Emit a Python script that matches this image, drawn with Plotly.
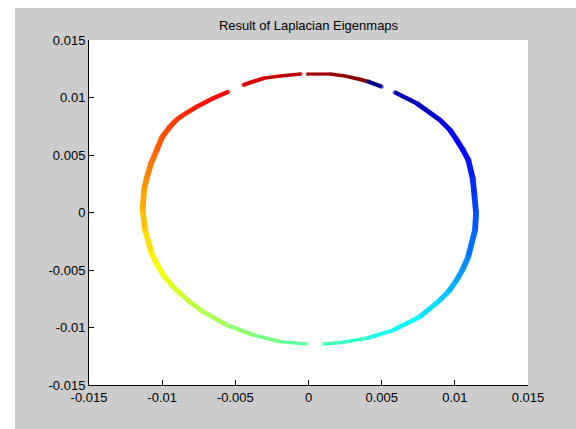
import plotly.graph_objects as go
from plotly.colors import sample_colorscale

# Points read along the embedded ring (clockwise), arc id marks gaps
x_pts = [0.00591, 0.00739, 0.00899, 0.00967, 0.01013, 0.01056, 0.01092, 0.01122, 0.01134, 0.01145,
         0.01138, 0.01092, 0.01056, 0.01013, 0.00960, 0.00899, 0.00762, 0.00580, 0.00398, 0.00215,
         0.00101,
         -0.00012, -0.00195, -0.00377, -0.00559, -0.00719, -0.00803, -0.00878, -0.00940, -0.00992,
         -0.01035, -0.01072, -0.01117, -0.01133, -0.01124, -0.01106, -0.01076, -0.01037, -0.01000,
         -0.00946, -0.00905, -0.00856, -0.00764, -0.00651, -0.00548,
         -0.00446, -0.00309, -0.00195, -0.00051,
         -0.00010, 0.00147, 0.00249, 0.00352, 0.00407, 0.00500]
y_pts = [0.01045, 0.00950, 0.00804, 0.00717, 0.00630, 0.00543, 0.00457, 0.00297, 0.00152, -0.00007,
         -0.00152, -0.00384, -0.00491, -0.00587, -0.00683, -0.00761, -0.00906, -0.01022, -0.01094, -0.01132,
         -0.01143,
         -0.01143, -0.01123, -0.01065, -0.00978, -0.00863, -0.00787, -0.00703, -0.00626, -0.00543,
         -0.00452, -0.00355, -0.00152, 0.00022, 0.00196, 0.00297, 0.00426, 0.00543, 0.00655,
         0.00746, 0.00803, 0.00848, 0.00920, 0.00993, 0.01050,
         0.01109, 0.01167, 0.01187, 0.01204,
         0.01204, 0.01204, 0.01187, 0.01158, 0.01139, 0.01094]
c_pts = [0.04, 0.06, 0.09, 0.105, 0.12, 0.13, 0.14, 0.16, 0.18, 0.20,
         0.22, 0.25, 0.27, 0.29, 0.31, 0.33, 0.36, 0.39, 0.41, 0.44,
         0.45,
         0.46, 0.48, 0.50, 0.53, 0.55, 0.565, 0.58, 0.595, 0.61,
         0.625, 0.64, 0.67, 0.70, 0.72, 0.74, 0.76, 0.78, 0.795,
         0.81, 0.82, 0.83, 0.85, 0.87, 0.88,
         0.90, 0.92, 0.93, 0.95,
         0.955, 0.97, 0.98, 0.99, 0.0, 0.02]
arc_id = [0] * 21 + [1] * 24 + [2] * 4 + [3] * 6

x_ticks = [-0.015, -0.01, -0.005, 0, 0.005, 0.01, 0.015]
x_tick_text = ["-0.015", "-0.01", "-0.005", "0", "0.005", "0.01", "0.015"]
y_ticks = [-0.015, -0.01, -0.005, 0, 0.005, 0.01, 0.015]
y_tick_text = ["-0.015", "-0.01", "-0.005", "0", "0.005", "0.01", "0.015"]

jet = [[0, "rgb(0,0,128)"], [0.125, "rgb(0,0,255)"], [0.375, "rgb(0,255,255)"],
       [0.625, "rgb(255,255,0)"], [0.875, "rgb(255,0,0)"], [1, "rgb(128,0,0)"]]

W, H = 576, 429
L, R, T, B = 89, 48, 40, 44
pw, ph = W - L - R, H - T - B
sx, sy = pw / 0.03, ph / 0.03


def band_width(i, j):
    dx = (x_pts[j] - x_pts[i]) * sx
    dy = (y_pts[j] - y_pts[i]) * sy
    vert = abs(dy) / max((dx * dx + dy * dy) ** 0.5, 1e-9)
    return 3.2 + 2.6 * vert


fig = go.Figure()
n = len(x_pts)
for i in range(n - 1):
    if arc_id[i] != arc_id[i + 1]:
        continue
    c1, c2 = c_pts[i], c_pts[i + 1]
    c = c1 if abs(c1 - c2) > 0.5 else (c1 + c2) / 2
    col = sample_colorscale(jet, [c])[0]
    fig.add_trace(go.Scatter(x=[x_pts[i], x_pts[i + 1]], y=[y_pts[i], y_pts[i + 1]],
                             mode="lines", line=dict(color=col, width=band_width(i, i + 1)),
                             hoverinfo="skip", showlegend=False))

# round joints: marker size equal to local band width
sizes = []
for i in range(n):
    a = i - 1 if i > 0 and arc_id[i - 1] == arc_id[i] else i
    b = i + 1 if i < n - 1 and arc_id[i + 1] == arc_id[i] else i
    sizes.append(band_width(a, b) if a != b else 3.5)

fig.add_trace(go.Scatter(x=x_pts, y=y_pts, mode="markers",
                         marker=dict(color=c_pts, colorscale=jet, cmin=0, cmax=1,
                                     size=sizes, symbol="circle", line=dict(width=0)),
                         showlegend=False))

axis_common = dict(range=[-0.015, 0.015], showgrid=False, zeroline=False, showline=True,
                   linecolor="black", linewidth=1, ticks="inside", ticklen=5,
                   tickcolor="black", mirror=False,
                   tickfont=dict(family="Liberation Sans, Arial", size=13, color="black"))

fig.update_layout(
    width=W, height=H,
    margin=dict(l=L, r=R, t=T, b=B, pad=0),
    paper_bgcolor="#cccccc", plot_bgcolor="white",
    title=dict(text="Result of Laplacian Eigenmaps", x=0.5, xref="paper",
               y=1 - 25 / H, yref="container", yanchor="middle", xanchor="center",
               font=dict(family="Liberation Sans, Arial", size=13, color="black")),
    xaxis=dict(tickvals=x_ticks, ticktext=x_tick_text, **axis_common),
    yaxis=dict(tickvals=y_ticks, ticktext=y_tick_text, **axis_common),
    shapes=[
        dict(type="rect", xref="paper", yref="paper", x0=-L / pw - 0.01, x1=(15 - L) / pw,
             y0=-B / ph - 0.01, y1=(H - B) / ph + 0.01, fillcolor="white", line=dict(width=0), layer="below"),
        dict(type="rect", xref="paper", yref="paper", x0=-L / pw - 0.01, x1=1 + R / pw + 0.01,
             y0=(H - B - 8) / ph, y1=(H - B) / ph + 0.01, fillcolor="white", line=dict(width=0), layer="below"),
    ],
)

fig.write_html("out.html")
